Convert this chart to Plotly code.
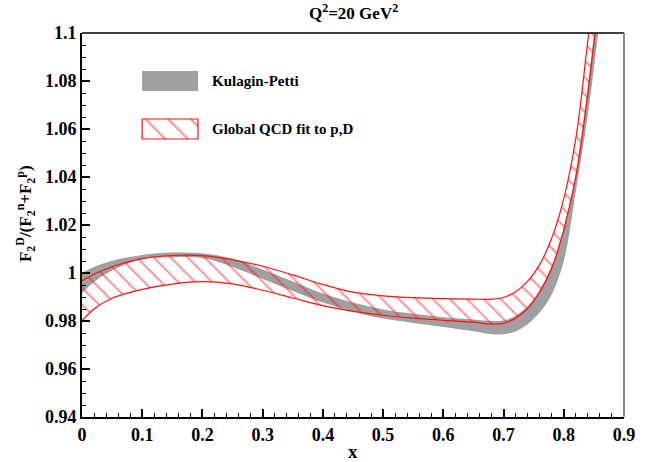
import plotly.graph_objects as go

# x grid shared by both bands
x_grid = [0.0, 0.02, 0.05, 0.10, 0.15, 0.20, 0.25, 0.30, 0.35, 0.40, 0.45, 0.50,
          0.55, 0.60, 0.65, 0.68, 0.70, 0.72, 0.74, 0.76, 0.78, 0.80, 0.82, 0.84, 0.86]

# Kulagin-Petti band (lower / upper edge)
kp_lower = [0.9915, 0.9962, 1.0010, 1.0057, 1.0065, 1.0062, 1.0025, 0.9975, 0.9925, 0.9877,
            0.9840, 0.9810, 0.9792, 0.9775, 0.9757, 0.9745, 0.9745, 0.9756, 0.9786, 0.9835,
            0.9910, 1.0050, 1.0340, 1.0660, 1.1060]
kp_upper = [1.0000, 1.0025, 1.0051, 1.0075, 1.0085, 1.0082, 1.0060, 1.0015, 0.9965, 0.9915,
            0.9877, 0.9848, 0.9830, 0.9816, 0.9806, 0.9800, 0.9802, 0.9822, 0.9862, 0.9930,
            1.0030, 1.0190, 1.0420, 1.0780, 1.1220]

# Global QCD fit band (lower / upper edge)
qcd_lower = [0.9800, 0.9850, 0.9895, 0.9932, 0.9954, 0.9964, 0.9955, 0.9928, 0.9896, 0.9864,
             0.9840, 0.9824, 0.9812, 0.9803, 0.9795, 0.9787, 0.9790, 0.9812, 0.9852, 0.9920,
             1.0020, 1.0180, 1.0400, 1.0750, 1.1180]
qcd_upper = [0.9968, 0.9995, 1.0026, 1.0060, 1.0073, 1.0072, 1.0055, 1.0028, 0.9992, 0.9952,
             0.9920, 0.9905, 0.9897, 0.9893, 0.9891, 0.9891, 0.9898, 0.9922, 0.9965, 1.0035,
             1.0145, 1.0310, 1.0560, 1.0970, 1.1400]

# axis ticks
x_ticks = [0.0, 0.1, 0.2, 0.3, 0.4, 0.5, 0.6, 0.7, 0.8, 0.9]
x_tick_text = ["0", "0.1", "0.2", "0.3", "0.4", "0.5", "0.6", "0.7", "0.8", "0.9"]
y_ticks = [0.94, 0.96, 0.98, 1.00, 1.02, 1.04, 1.06, 1.08, 1.10]
y_tick_text = ["0.94", "0.96", "0.98", "1", "1.02", "1.04", "1.06", "1.08", "1.1"]

legend_labels = ["Kulagin-Petti", "Global QCD fit to p,D"]

SERIF = "Liberation Serif"
GRAY = "#a0a0a0"
RED = "#ff1010"
HATCH = dict(shape="\\", fgcolor=RED, bgcolor="rgba(0,0,0,0)", size=12, solidity=0.16)

fig = go.Figure()

# gray band
fig.add_trace(go.Scatter(x=x_grid, y=kp_lower, mode="lines", line=dict(width=0, shape="spline"),
                         showlegend=False, hoverinfo="skip"))
fig.add_trace(go.Scatter(x=x_grid, y=kp_upper, mode="lines", line=dict(width=0, shape="spline"),
                         fill="tonexty", fillcolor=GRAY, showlegend=False, hoverinfo="skip"))

# hatched red band
fig.add_trace(go.Scatter(x=x_grid, y=qcd_lower, mode="lines",
                         line=dict(color=RED, width=1.2, shape="spline"),
                         showlegend=False, hoverinfo="skip"))
fig.add_trace(go.Scatter(x=x_grid, y=qcd_upper, mode="lines",
                         line=dict(color=RED, width=1.2, shape="spline"),
                         fill="tonexty", fillcolor="rgba(0,0,0,0)", fillpattern=HATCH,
                         showlegend=False, hoverinfo="skip"))

# legend swatches on an overlay axis spanning the plot area (0..1 in both directions)
sw_x0, sw_x1 = 0.111, 0.214
rows = [(0.849, 0.901), (0.724, 0.776)]
(g0, g1), (r0, r1) = rows
fig.add_trace(go.Scatter(x=[sw_x0, sw_x1, sw_x1, sw_x0, sw_x0], y=[g0, g0, g1, g1, g0],
                         xaxis="x2", yaxis="y2", mode="lines", line=dict(width=0),
                         fill="toself", fillcolor=GRAY, showlegend=False, hoverinfo="skip"))
fig.add_trace(go.Scatter(x=[sw_x0, sw_x1, sw_x1, sw_x0, sw_x0], y=[r0, r0, r1, r1, r0],
                         xaxis="x2", yaxis="y2", mode="lines", line=dict(color=RED, width=1.2),
                         fill="toself", fillcolor="rgba(0,0,0,0)",
                         fillpattern=dict(HATCH, size=16, solidity=0.12),
                         showlegend=False, hoverinfo="skip"))

label_font = dict(family=SERIF, size=15, color="black", weight="bold")
for label, (lo, hi) in zip(legend_labels, rows):
    fig.add_annotation(x=0.236, y=(lo + hi) / 2, xref="paper", yref="paper", text=label,
                       showarrow=False, xanchor="left", yanchor="middle", font=label_font)

tick_font = dict(family=SERIF, size=18, color="black", weight="bold")

fig.update_layout(
    width=647, height=462,
    margin=dict(l=82, r=14, t=33, b=45),
    paper_bgcolor="white", plot_bgcolor="white",
    showlegend=False,
    xaxis=dict(range=[0, 0.9], tickvals=x_ticks, ticktext=x_tick_text, tickfont=tick_font,
               ticks="inside", ticklen=8, tickwidth=1.5, tickcolor="black",
               minor=dict(ticks="inside", ticklen=4, tickwidth=1.2, tickcolor="black", dtick=0.02),
               showline=True, linecolor="black", linewidth=2, showgrid=False, zeroline=False),
    yaxis=dict(range=[0.94, 1.1], tickvals=y_ticks, ticktext=y_tick_text, tickfont=tick_font,
               ticks="inside", ticklen=8, tickwidth=1.5, tickcolor="black",
               minor=dict(ticks="inside", ticklen=4, tickwidth=1.2, tickcolor="black", dtick=0.005),
               showline=True, linecolor="black", linewidth=2, showgrid=False, zeroline=False),
    xaxis2=dict(range=[0, 1], overlaying="x", visible=False, fixedrange=True),
    yaxis2=dict(range=[0, 1], overlaying="y", visible=False, fixedrange=True),
)

# frame: top black, right gray
fig.add_shape(type="line", xref="paper", yref="paper", x0=0, x1=1, y0=1, y1=1,
              line=dict(color="black", width=1.5))
fig.add_shape(type="line", xref="paper", yref="paper", x0=1, x1=1, y0=0, y1=1,
              line=dict(color="#888888", width=2))

fig.add_annotation(x=0.5, y=1.055, xref="paper", yref="paper", showarrow=False,
                   text="Q<sup>2</sup>=20 GeV<sup>2</sup>", yanchor="middle",
                   font=dict(family=SERIF, size=17, color="black", weight="bold"))
fig.add_annotation(x=0.5, y=-0.091, xref="paper", yref="paper", showarrow=False,
                   text="x", yanchor="middle",
                   font=dict(family=SERIF, size=19, color="black", weight="bold"))
fig.add_annotation(x=-0.103, y=0.529, xref="paper", yref="paper", showarrow=False,
                   text="F<sub>2</sub><sup>D</sup>/(F<sub>2</sub><sup>n</sup>+F<sub>2</sub><sup>p</sup>)",
                   textangle=-90, xanchor="center", yanchor="middle",
                   font=dict(family=SERIF, size=17, color="black", weight="bold"))

fig.write_html("out.html")
